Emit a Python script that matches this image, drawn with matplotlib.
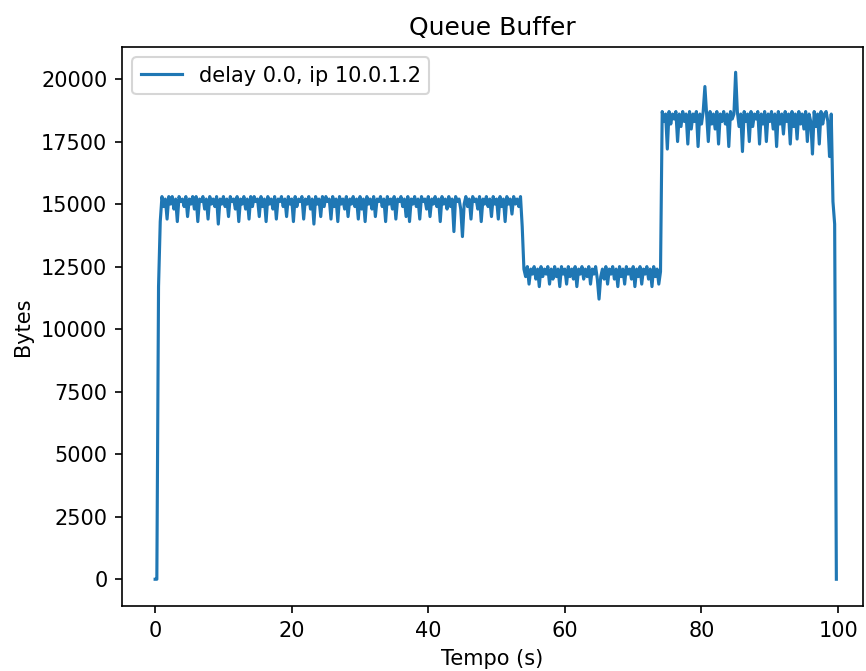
import numpy as np
import matplotlib
matplotlib.use("Agg")
import matplotlib.pyplot as plt

sample_interval = 0.25  # seconds between samples

ramp_up = [0, 0, 11700, 14300]

phase_a = [
    15300, 14900, 15200, 14400, 15300, 15000, 15300, 14800, 15200, 14300, 15300, 15100,
    15200, 14900, 15300, 14500, 15200, 15000, 15300, 14800, 15300, 14300, 15200, 15100,
    15300, 14800, 15200, 14400, 15300, 15000, 15200, 14900, 15300, 14200, 15200, 15000,
    15300, 14900, 15200, 14500, 15300, 15100, 15200, 14800, 15300, 14300, 15200, 15000,
    15300, 14800, 15200, 14400, 15300, 14900, 15300, 15100, 15200, 14500, 15300, 14900,
    15200, 14300, 15300, 15000, 15200, 14800, 15300, 14400, 15200, 15100, 15300, 14900,
    15200, 14500, 15300, 15000, 15200, 14300, 15300, 14900, 15200, 15100, 15300, 14400,
    15200, 15000, 15300, 14800, 15200, 14200, 15300, 15000, 15200, 14500, 15300, 14900,
    15300, 15100, 15200, 14400, 15300, 14900, 15200, 14300, 15300, 15000, 15200, 14800,
    15300, 14500, 15200, 15000, 15300, 14900, 15200, 14400, 15300, 14800, 15200, 14300,
    15300, 15000, 15200, 14800, 15300, 14500, 15200, 15100, 15300, 14900, 15200, 14300,
    15300, 15000, 15200, 14800, 15300, 14400, 15200, 15100, 15300, 14900, 15200, 14500,
    15300, 14300, 15200, 15000, 15300, 14900, 15200, 14400, 15300, 15100, 15200, 14800,
    15300, 14500, 15200, 15000, 15300, 14900, 15200, 14300, 15300, 15000, 15200, 14800,
    15300, 14900, 15200, 13900, 15300, 15100, 15200, 14800, 13700, 15000, 15300, 14900,
    15200, 14400, 15300, 15100, 15200, 14800, 15300, 14300, 15200, 15000, 15300, 14900,
    15200, 14500, 15300, 15000, 15200, 14400, 15300, 14900, 15200, 14300, 15300, 15000,
    15200, 14600, 15300, 15000, 15200, 14900, 15300, 14100,
]

phase_b = [
    12400, 12100, 12500, 11800, 12400, 12200, 12500, 12000, 12400, 11700, 12500, 12100,
    12400, 12200, 12500, 11800, 12400, 12000, 12500, 12100, 12400, 11700, 12500, 12200,
    12400, 11800, 12500, 12100, 12400, 12000, 12500, 11700, 12400, 12200, 12500, 12000,
    12400, 12100, 12500, 11800, 12400, 12200, 12500, 12000, 11200, 12100, 12400, 12000,
    12500, 11800, 12400, 12200, 12500, 12000, 12400, 11700, 12500, 12100, 12400, 11800,
    12500, 12200, 12400, 12000, 12500, 11700, 12400, 12100, 12500, 11800, 12400, 12200,
    12500, 12000, 12400, 11700, 12500, 12100, 12400, 11800, 12300,
]

phase_c = [
    18700, 18300, 18600, 17200, 18700, 18200, 18600, 18400, 18700, 17500, 18600, 18100,
    18700, 18300, 18600, 17400, 18700, 18000, 18600, 18300, 18700, 17300, 18600, 18200,
    18700, 19700, 18600, 17500, 18700, 18200, 18600, 18000, 18700, 17400, 18600, 18300,
    18700, 18200, 18600, 17300, 18700, 18400, 18600, 20270, 18700, 18100, 18600, 17100,
    18700, 18300, 18600, 17500, 18700, 18100, 18600, 18400, 18700, 17400, 18600, 18200,
    18700, 17500, 18600, 18300, 18700, 18000, 18600, 17300, 18700, 18200, 18600, 17800,
    18700, 18300, 18600, 17400, 18700, 18100, 18600, 17600, 18700, 18200, 18600, 18000,
    18700, 17500, 18600, 18300, 17000, 18700, 18100, 18600, 17400, 18700, 18200, 18600,
    18700, 18300, 16900, 18600,
]

ramp_down = [15100, 14200, 0]

values = np.array(ramp_up + phase_a + phase_b + phase_c + ramp_down, dtype=float)
times = np.arange(len(values)) * sample_interval

fig = plt.figure(figsize=(866 / 150, 671 / 150), dpi=150)
ax = fig.add_axes([122 / 866, 65 / 671, 741 / 866, 559 / 671])
ax.plot(times, values, color="#1f77b4", linewidth=1.5, label="delay 0.0, ip 10.0.1.2")
ax.set_xlim(-4.85, 103.65)
ax.set_ylim(-1070, 21280)
ax.set_xticks([0, 20, 40, 60, 80, 100])
ax.set_yticks([0, 2500, 5000, 7500, 10000, 12500, 15000, 17500, 20000])
ax.set_title("Queue Buffer", fontsize=12)
ax.set_xlabel("Tempo (s)", fontsize=10)
ax.set_ylabel("Bytes", fontsize=10)
ax.tick_params(labelsize=10)
ax.legend(loc="upper left", fontsize=10)
fig.savefig("out.png", dpi=150)
